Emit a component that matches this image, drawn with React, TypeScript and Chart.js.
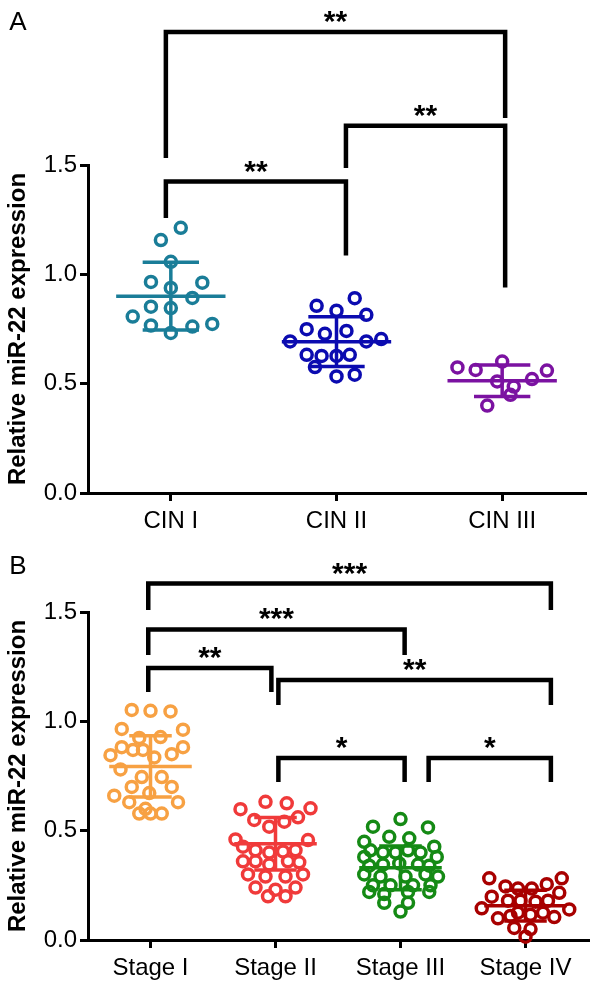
import React, { useEffect, useRef } from 'react';
import { Chart, registerables } from 'chart.js';

Chart.register(...registerables);

// ---------- Panel A data ----------
const cinCategories = ['CIN I', 'CIN II', 'CIN III'];
const cin1Values = [1.213, 1.157, 1.057, 0.965, 0.962, 0.938, 0.892, 0.852, 0.846, 0.807, 0.766, 0.732, 0.761, 0.773];
const cin1Jitter = [6, -6, 0, -12, 19, 0, 13, -12, 0, -23, -12, 0, 13, 25];
const cin2Values = [0.891, 0.856, 0.834, 0.815, 0.749, 0.728, 0.741, 0.693, 0.693, 0.704, 0.632, 0.627, 0.627, 0.632, 0.576, 0.533, 0.541];
const cin2Jitter = [11, -12, 0, 18, -18, -7, 6, -28, 18, 27, -18, -9, 0, 8, -13, 0, 11];
const cin3Values = [0.574, 0.563, 0.601, 0.51, 0.487, 0.521, 0.449, 0.4, 0.56];
const cin3Jitter = [-27, -16, 0, -3, 7, 18, 5, -9, 27];
const cinMeans = [0.9, 0.692, 0.513];
const cinSDs = [0.155, 0.114, 0.072];
const cinColors = ['#1a7d98', '#0b0bb0', '#7b12a1'];
const cinBracketFrom = [0.97, 2.057, 0.97];
const cinBracketTo = [3.018, 3.018, 2.057];
const cinBracketLevel = [2.108, 1.679, 1.424];
const cinBracketLeftEnd = [1.532, 1.486, 1.258];
const cinBracketRightEnd = [1.715, 0.94, 1.086];
const cinBracketLabels = ['**', '**', '**'];

// ---------- Panel B data ----------
const stageCategories = ['Stage I', 'Stage II', 'Stage III', 'Stage IV'];
const stage1Values = [1.052, 1.048, 1.045, 0.965, 0.962, 0.924, 0.928, 0.882, 0.869, 0.869, 0.882, 0.85, 0.835, 0.845, 0.745, 0.745, 0.7, 0.7, 0.672, 0.63, 0.63, 0.6, 0.578, 0.578, 0.578, 0.66, 0.78];
const stage1Jitter = [-15, 0, 16, -23, 26, -9, 8, -23, -14, -6, 26, 17, 3, -32, -7, 9, -15, 17, -1, -17, 22, -4, -9, 0, 9, -29, -24];
const stage2Values = [0.598, 0.632, 0.625, 0.602, 0.549, 0.518, 0.541, 0.561, 0.457, 0.427, 0.41, 0.4, 0.405, 0.41, 0.36, 0.36, 0.345, 0.36, 0.355, 0.3, 0.29, 0.29, 0.3, 0.24, 0.23, 0.24, 0.2, 0.2, 0.46];
const stage2Jitter = [-28, -8, 9, 28, -17, -5, 7, 18, 26, -26, -16, -5, 6, 16, -26, -16, -5, 10, 19, -22, -8, 8, 22, -16, 0, 16, -6, 8, -32];
const stage3Values = [0.518, 0.553, 0.515, 0.449, 0.472, 0.465, 0.427, 0.41, 0.4, 0.4, 0.41, 0.4, 0.38, 0.38, 0.34, 0.345, 0.35, 0.345, 0.34, 0.3, 0.29, 0.29, 0.3, 0.29, 0.25, 0.25, 0.25, 0.25, 0.22, 0.21, 0.22, 0.22, 0.17, 0.17, 0.13];
const stage3Jitter = [-22, 0, 22, -29, -9, 7, 27, -24, -14, -4, 6, 16, -29, 29, -25, -14, -1, 14, 23, -29, -16, 4, 20, 30, -22, -8, 10, 24, -25, -13, 6, 23, -13, 6, 0];
const stage4Values = [0.282, 0.282, 0.245, 0.235, 0.235, 0.255, 0.198, 0.216, 0.18, 0.18, 0.175, 0.18, 0.099, 0.11, 0.125, 0.115, 0.125, 0.105, 0.145, 0.14, 0.055, 0.05, 0.015];
const stage4Jitter = [-29, 29, -16, -6, 5, 17, -27, 27, -14, -4, 8, 18, -22, -12, -6, 4, 14, 23, -35, 35, -9, 4, 0];
const stageMeans = [0.794, 0.44, 0.33, 0.157];
const stageSDs = [0.14, 0.12, 0.1, 0.07];
const stageColors = ['#f7a143', '#f03a3a', '#158a15', '#a80000'];
const stageBracketFrom = [0.982, 0.982, 0.982, 2.023, 2.023, 3.225];
const stageBracketTo = [4.203, 3.033, 1.967, 4.203, 3.033, 4.203];
const stageBracketLevel = [1.63, 1.42, 1.244, 1.189, 0.832, 0.832];
const stageBracketLeftEnd = [1.509, 1.303, 1.134, 1.075, 0.722, 0.722];
const stageBracketRightEnd = [1.509, 1.303, 1.134, 1.075, 0.722, 0.722];
const stageBracketLabels = ['***', '***', '**', '**', '*', '*'];

const yTickValues = [0, 0.5, 1.0, 1.5];
const yTitle = 'Relative miR-22 expression';

const FONT = "'Liberation Sans', Arial, sans-serif";

type PanelSpec = {
  letter: string;
  categories: string[];
  values: number[][];
  jitters: number[][];
  means: number[];
  sds: number[];
  colors: string[];
  bFrom: number[];
  bTo: number[];
  bLevel: number[];
  bLeft: number[];
  bRight: number[];
  bLabels: string[];
  height: number;
  area: { left: number; right: number; top: number; bottom: number };
  letterPos: [number, number];
};

function buildChart(canvas: HTMLCanvasElement, s: PanelSpec) {
  const datasets = s.values.map((vals, gi) => ({
    label: s.categories[gi],
    data: vals.map((v, i) => ({ x: gi + 1 + s.jitters[gi][i] / 100, y: v })),
    borderColor: s.colors[gi],
    backgroundColor: 'rgba(0,0,0,0)',
    pointRadius: 5.5,
    pointBorderWidth: 3.5,
    pointHoverRadius: 5.5,
    showLine: false,
    clip: false as any,
  }));

  const overlay = {
    id: 'overlay',
    afterDatasetsDraw(chart: any) {
      const { ctx } = chart;
      const x = chart.scales.x;
      const y = chart.scales.y;
      ctx.save();
      // mean and SD
      s.means.forEach((m, i) => {
        const cx = x.getPixelForValue(i + 1);
        const half = x.getPixelForValue(i + 1.33) - cx;
        const cap = x.getPixelForValue(i + 1.17) - cx;
        const ym = y.getPixelForValue(m);
        const yt = y.getPixelForValue(m + s.sds[i]);
        const yb = y.getPixelForValue(m - s.sds[i]);
        ctx.strokeStyle = s.colors[i];
        ctx.lineWidth = 3.5;
        ctx.lineCap = 'butt';
        ctx.beginPath();
        ctx.moveTo(cx - half, ym);
        ctx.lineTo(cx + half, ym);
        ctx.moveTo(cx, yt);
        ctx.lineTo(cx, yb);
        ctx.moveTo(cx - cap, yt);
        ctx.lineTo(cx + cap, yt);
        ctx.moveTo(cx - cap, yb);
        ctx.lineTo(cx + cap, yb);
        ctx.stroke();
      });
      // brackets
      ctx.strokeStyle = '#000';
      ctx.fillStyle = '#000';
      ctx.lineWidth = 4.5;
      ctx.lineJoin = 'miter';
      ctx.font = `bold 30px ${FONT}`;
      ctx.textAlign = 'center';
      ctx.textBaseline = 'alphabetic';
      s.bFrom.forEach((f, i) => {
        const x1 = x.getPixelForValue(f);
        const x2 = x.getPixelForValue(s.bTo[i]);
        const yl = y.getPixelForValue(s.bLevel[i]);
        ctx.beginPath();
        ctx.moveTo(x1, y.getPixelForValue(s.bLeft[i]));
        ctx.lineTo(x1, yl);
        ctx.lineTo(x2, yl);
        ctx.lineTo(x2, y.getPixelForValue(s.bRight[i]));
        ctx.stroke();
        ctx.fillText(s.bLabels[i], (x1 + x2) / 2, yl - 1);
      });
      // panel letter
      ctx.font = `26px ${FONT}`;
      ctx.textAlign = 'center';
      ctx.textBaseline = 'middle';
      ctx.fillText(s.letter, s.letterPos[0], s.letterPos[1]);
      ctx.restore();
    },
  };

  const n = s.categories.length;
  return new Chart(canvas, {
    type: 'scatter',
    data: { datasets: datasets as any },
    options: {
      animation: false,
      responsive: false,
      devicePixelRatio: 1,
      events: [],
      layout: { padding: { top: s.area.top, right: 600 - s.area.right, left: 0, bottom: 0 } },
      plugins: { legend: { display: false }, tooltip: { enabled: false } },
      scales: {
        x: {
          type: 'linear',
          min: 0.5,
          max: n + 0.5,
          afterBuildTicks: (scale: any) => {
            scale.ticks = s.categories.map((_, i) => ({ value: i + 1 }));
          },
          afterFit: (scale: any) => {
            scale.height = s.height - s.area.bottom;
          },
          ticks: {
            autoSkip: false,
            maxRotation: 0,
            padding: 6,
            color: '#000',
            font: { family: FONT, size: 24 },
            callback: (_v: any, i: number) => s.categories[i],
          },
          grid: {
            display: true,
            drawOnChartArea: false,
            drawTicks: true,
            tickLength: 8,
            tickWidth: 3,
            tickColor: '#000',
            color: '#000',
            lineWidth: 3,
          },
          border: { display: true, color: '#000', width: 3 },
        },
        y: {
          type: 'linear',
          min: 0,
          max: 1.5,
          afterBuildTicks: (scale: any) => {
            scale.ticks = yTickValues.map((v) => ({ value: v }));
          },
          afterFit: (scale: any) => {
            scale.width = s.area.left;
          },
          ticks: {
            padding: 3,
            color: '#000',
            font: { family: FONT, size: 24 },
            callback: (v: any) => Number(v).toFixed(1),
          },
          grid: {
            display: true,
            drawOnChartArea: false,
            drawTicks: true,
            tickLength: 8,
            tickWidth: 3,
            tickColor: '#000',
            color: '#000',
            lineWidth: 3,
          },
          border: { display: true, color: '#000', width: 3 },
          title: {
            display: true,
            text: yTitle,
            color: '#000',
            font: { family: FONT, size: 24, weight: 'bold' },
            padding: { top: 4, bottom: 0 },
          },
        },
      },
    },
    plugins: [overlay],
  });
}

const panelA: PanelSpec = {
  letter: 'A',
  categories: cinCategories,
  values: [cin1Values, cin2Values, cin3Values],
  jitters: [cin1Jitter, cin2Jitter, cin3Jitter],
  means: cinMeans,
  sds: cinSDs,
  colors: cinColors,
  bFrom: cinBracketFrom,
  bTo: cinBracketTo,
  bLevel: cinBracketLevel,
  bLeft: cinBracketLeftEnd,
  bRight: cinBracketRightEnd,
  bLabels: cinBracketLabels,
  height: 540,
  area: { left: 88, right: 585, top: 165, bottom: 493 },
  letterPos: [18, 23],
};

const panelB: PanelSpec = {
  letter: 'B',
  categories: stageCategories,
  values: [stage1Values, stage2Values, stage3Values, stage4Values],
  jitters: [stage1Jitter, stage2Jitter, stage3Jitter, stage4Jitter],
  means: stageMeans,
  sds: stageSDs,
  colors: stageColors,
  bFrom: stageBracketFrom,
  bTo: stageBracketTo,
  bLevel: stageBracketLevel,
  bLeft: stageBracketLeftEnd,
  bRight: stageBracketRightEnd,
  bLabels: stageBracketLabels,
  height: 449,
  area: { left: 88, right: 588, top: 72, bottom: 400 },
  letterPos: [18, 27],
};

function Panel({ spec, top }: { spec: PanelSpec; top: number }) {
  const ref = useRef<HTMLCanvasElement | null>(null);
  useEffect(() => {
    if (!ref.current) return;
    const chart = buildChart(ref.current, spec);
    return () => chart.destroy();
  }, [spec]);
  return (
    <canvas
      ref={ref}
      width={600}
      height={spec.height}
      style={{ position: 'absolute', left: 0, top, width: 600, height: spec.height }}
    />
  );
}

export default function App() {
  return (
    <div style={{ position: 'absolute', left: 0, top: 0, width: 600, height: 989, background: '#fff', overflow: 'hidden' }}>
      <Panel spec={panelA} top={0} />
      <Panel spec={panelB} top={540} />
    </div>
  );
}
